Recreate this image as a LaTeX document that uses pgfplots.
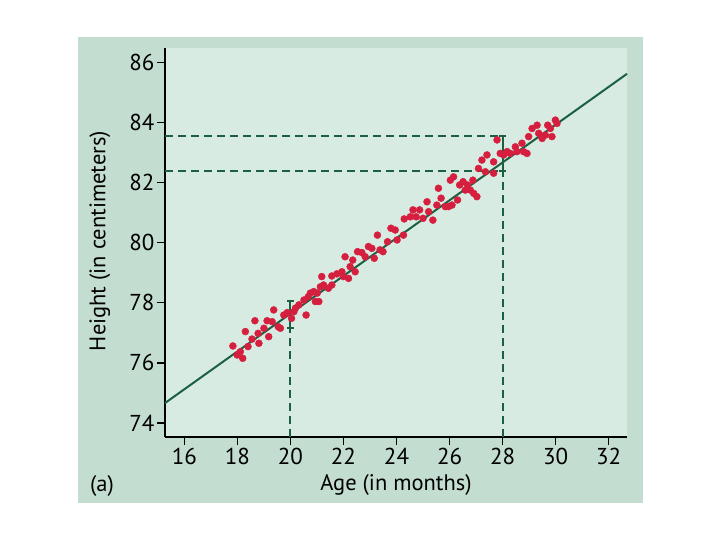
\documentclass[border=0pt]{standalone}
\usepackage{pgfplots}
\pgfplotsset{compat=1.18}
\usepackage{fontspec}
\setmainfont{PT Sans}
\definecolor{panel}{RGB}{196,221,209}
\definecolor{plotbg}{RGB}{215,235,226}
\definecolor{dotred}{RGB}{214,30,62}
\definecolor{lgreen}{RGB}{28,96,66}
\begin{document}
\begin{tikzpicture}[x=1pt,y=1pt]
\fill[white] (0,0) rectangle (720,540);
\fill[panel] (78,37) rectangle (643,503);
\begin{axis}[at={(165pt,103pt)}, anchor=south west, width=462pt, height=389pt, scale only axis,
  xmin=15.27, xmax=32.69, ymin=73.53, ymax=86.48,
  axis lines=left, axis line style={-, line width=1.5pt, black},
  xtick={16,18,...,32}, ytick={74,76,...,86},
  tick style={line width=1.5pt, black}, major tick length=8pt, tick align=outside,
  axis background/.style={fill=plotbg},
  ticklabel style={font=\fontsize{23}{26}\selectfont},
  yticklabel style={xshift=1pt},
  /pgf/number format/assume math mode=true,
  xlabel={Age (in months)}, ylabel={Height (in centimeters)},
  label style={font=\fontsize{22.5}{26}\selectfont},
  xlabel style={at={(axis description cs:0.5,-0.123)}, anchor=center},
  ylabel style={at={(axis description cs:-0.141,0.504)}, anchor=center},
  clip=false]
\addplot[only marks, mark=*, mark size=3.5pt, mark options={draw=dotred, fill=dotred}] coordinates {
(17.83,76.56) (17.99,76.26) (18.11,76.37) (18.20,76.15) (18.30,77.04) (18.40,76.54) (18.55,76.79) (18.66,77.40)
(18.78,76.98) (18.81,76.65) (19.00,77.15) (19.12,77.40) (19.18,76.87) (19.31,77.37) (19.37,77.76) (19.54,77.20)
(19.62,77.15) (19.75,77.59) (19.88,77.67) (20.04,77.48) (20.13,77.70) (20.19,77.82) (20.32,77.93) (20.51,78.09)
(20.59,77.59) (20.67,78.20) (20.75,78.32) (20.88,78.37) (20.94,78.04) (21.07,78.04) (21.01,78.32) (21.13,78.53)
(21.18,78.87) (21.25,78.59) (21.43,78.48) (21.56,78.59) (21.56,78.89) (21.75,78.96) (21.94,79.03) (22.00,78.87)
(22.06,79.53) (22.19,78.81) (22.25,79.20) (22.35,79.42) (22.44,79.03) (22.53,79.70) (22.69,79.67) (22.82,79.53)
(22.94,79.87) (23.07,79.81) (23.16,79.48) (23.28,80.25) (23.38,79.76) (23.49,79.70) (23.66,80.03) (23.79,80.48)
(23.95,80.42) (24.02,80.09)
(24.26,80.25) (24.29,80.79) (24.52,80.86) (24.62,81.09) (24.74,80.86) (24.87,81.09) (25.00,80.81) (25.15,81.36)
(25.21,81.03) (25.37,80.75) (25.52,81.25) (25.58,81.81) (25.68,81.48) (25.84,81.20) (25.96,81.20) (26.09,81.25)
(26.03,82.08) (26.15,82.19) (26.30,81.42) (26.38,81.92) (26.51,82.03) (26.59,81.75) (26.68,81.92) (26.78,81.75)
(26.88,82.08) (26.91,81.64) (27.03,81.53)
(27.09,82.47) (27.22,82.75) (27.41,82.92) (27.35,82.36) (27.66,82.69) (27.66,82.31) (27.79,83.42) (27.91,82.97)
(28.04,82.92) (28.17,83.03) (28.29,82.97) (28.48,83.19) (28.54,83.03) (28.73,83.31) (28.79,83.03) (28.92,82.97)
(28.98,83.53) (29.11,83.80) (29.30,83.91) (29.36,83.64) (29.49,83.47) (29.61,83.58) (29.70,83.91) (29.80,83.80)
(29.86,83.53) (29.99,84.08) (30.05,83.97)
};
\addplot[no marks, lgreen, line width=2pt] coordinates {(15.27,74.66) (32.69,85.62)};
% dashed guide lines
\addplot[no marks, lgreen, line width=2pt, dash pattern=on 8pt off 5pt] coordinates {(20,73.53) (20,77.16)};
\addplot[no marks, lgreen, line width=2pt, dash pattern=on 8pt off 5pt] coordinates {(28,73.53) (28,82.40)};
\addplot[no marks, lgreen, line width=2pt, dash pattern=on 8pt off 5pt] coordinates {(15.27,82.40) (27.88,82.40)};
\addplot[no marks, lgreen, line width=2pt, dash pattern=on 8pt off 5pt] coordinates {(15.27,83.54) (27.88,83.54)};
% error bars
\addplot[no marks, lgreen, line width=2pt] coordinates {(20,77.16) (20,78.05)};
\addplot[no marks, lgreen, line width=2pt] coordinates {(19.87,77.16) (20.13,77.16)};
\addplot[no marks, lgreen, line width=2pt] coordinates {(19.87,78.05) (20.13,78.05)};
\addplot[no marks, lgreen, line width=2pt] coordinates {(28,82.40) (28,83.54)};
\addplot[no marks, lgreen, line width=2pt] coordinates {(27.87,82.40) (28.13,82.40)};
\addplot[no marks, lgreen, line width=2pt] coordinates {(27.87,83.54) (28.13,83.54)};
\end{axis}
\node[font=\fontsize{22.5}{26}\selectfont] at (102,54) {(a)};
\end{tikzpicture}
\end{document}
